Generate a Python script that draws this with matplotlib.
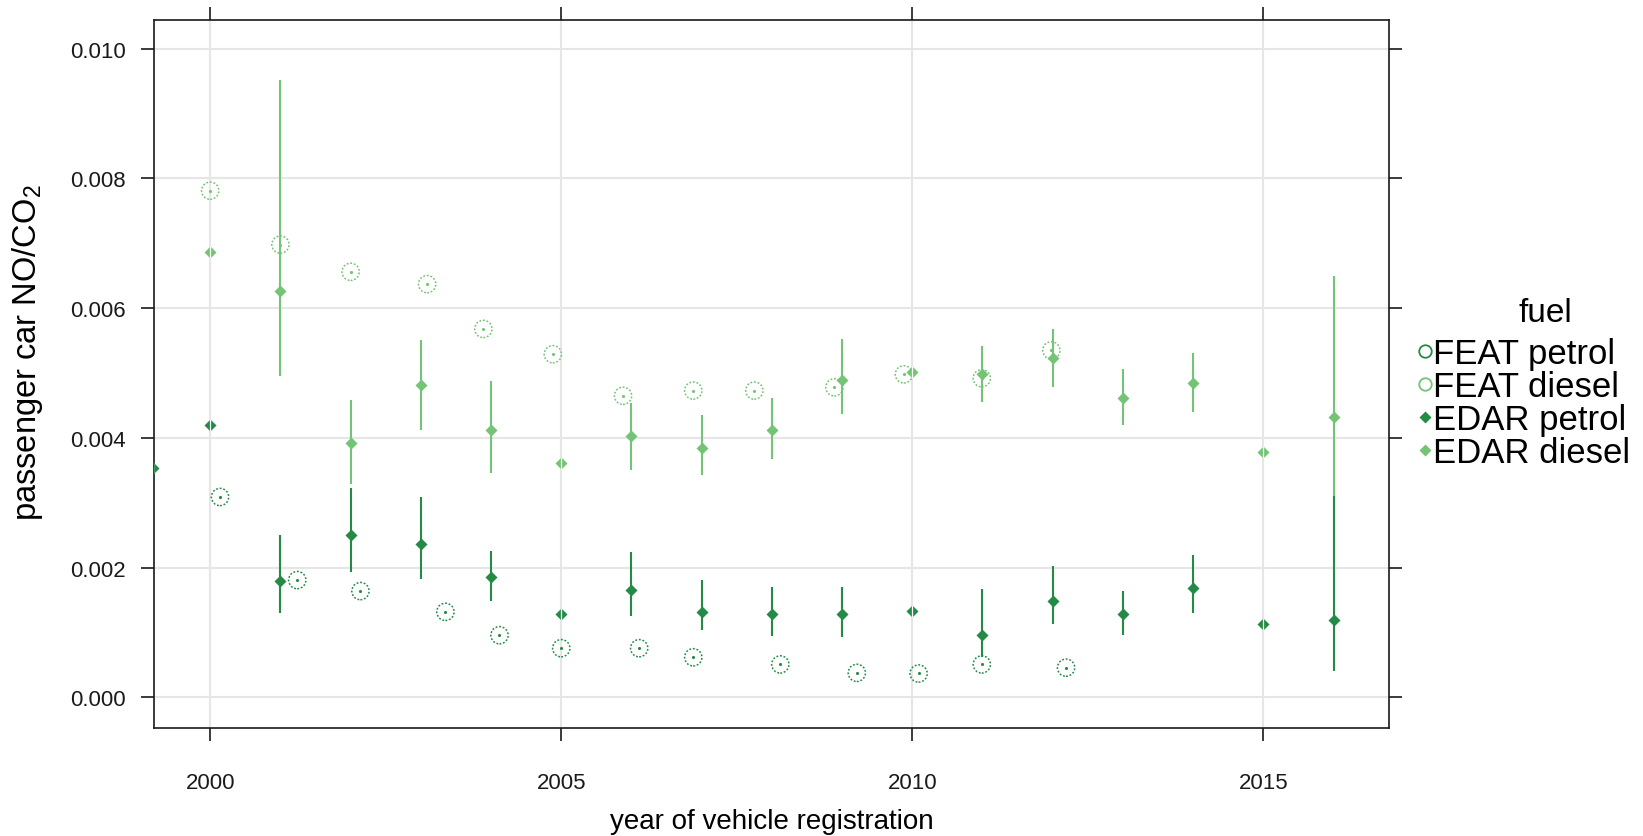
import matplotlib
matplotlib.use('Agg')
import matplotlib.pyplot as plt
from matplotlib.lines import Line2D
import numpy as np

plt.rcParams['font.family'] = ['Liberation Sans', 'DejaVu Sans']
plt.rcParams['mathtext.fontset'] = 'custom'
plt.rcParams['mathtext.rm'] = 'Liberation Sans'
plt.rcParams['mathtext.default'] = 'regular'

# FEAT remote sensing means (plotted at the mean registration date of each bin)
feat_petrol_year = [2000.14, 2001.24, 2002.14, 2003.35, 2004.12, 2005.0, 2006.11,
                    2006.88, 2008.12, 2009.21, 2010.09, 2010.99, 2012.19]
feat_petrol = [0.00309, 0.00181, 0.00164, 0.00132, 0.00096, 0.00076, 0.00076,
               0.00062, 0.00051, 0.00038, 0.00037, 0.00051, 0.00046]

feat_diesel_year = [2000.0, 2001.0, 2002.0, 2003.09, 2003.89, 2004.88, 2005.88,
                    2006.88, 2007.75, 2008.89, 2009.88, 2010.99, 2011.98]
feat_diesel = [0.00781, 0.00698, 0.00656, 0.00637, 0.00568, 0.00529, 0.00465,
               0.00473, 0.00473, 0.00478, 0.00498, 0.00492, 0.00535]

# EDAR means with 95% intervals
edar_year = [2000, 2001, 2002, 2003, 2004, 2005, 2006, 2007, 2008,
             2009, 2010, 2011, 2012, 2013, 2014, 2015, 2016]
edar_petrol = [0.00420, 0.00179, 0.00251, 0.00237, 0.00185, 0.00129, 0.00165, 0.00132, 0.00129,
               0.00129, 0.00134, 0.00096, 0.00149, 0.00129, 0.00168, 0.00113, 0.00120]
edar_petrol_lo = [0.00420, 0.00130, 0.00193, 0.00182, 0.00148, 0.00129, 0.00126, 0.00104, 0.00095,
                  0.00093, 0.00134, 0.00062, 0.00113, 0.00096, 0.00130, 0.00113, 0.00041]
edar_petrol_hi = [0.00420, 0.00251, 0.00323, 0.00309, 0.00226, 0.00129, 0.00224, 0.00181, 0.00170,
                  0.00170, 0.00134, 0.00167, 0.00203, 0.00164, 0.00220, 0.00113, 0.00311]

edar_diesel = [0.00687, 0.00626, 0.00392, 0.00482, 0.00412, 0.00362, 0.00403, 0.00384, 0.00412,
               0.00490, 0.00501, 0.00498, 0.00523, 0.00462, 0.00484, 0.00379, 0.00432]
edar_diesel_lo = [0.00687, 0.00496, 0.00329, 0.00412, 0.00346, 0.00362, 0.00351, 0.00343, 0.00368,
                  0.00437, 0.00501, 0.00456, 0.00479, 0.00420, 0.00440, 0.00379, 0.00215]
edar_diesel_hi = [0.00687, 0.00952, 0.00459, 0.00551, 0.00487, 0.00362, 0.00454, 0.00436, 0.00462,
                  0.00553, 0.00501, 0.00542, 0.00568, 0.00506, 0.00531, 0.00379, 0.00649]

# the 1999 EDAR petrol bin sits right on the panel edge
edar_petrol_1999_year = 1999.19
edar_petrol_1999 = 0.00354

x_ticks = [2000, 2005, 2010, 2015]
y_ticks = [0.000, 0.002, 0.004, 0.006, 0.008, 0.010]

dark = '#238b45'
light = '#74c476'

fig = plt.figure(figsize=(16.43, 8.37), dpi=100)
ax = fig.add_axes([154 / 1643, 1 - 729 / 837, (1389 - 154) / 1643, (729 - 21) / 837])

ax.set_xlim(1999.2, 2016.79)
ax.set_ylim(-0.00047, 0.01044)
ax.set_xticks(x_ticks)
ax.set_yticks(y_ticks)
ax.set_yticklabels(['%.3f' % v for v in y_ticks])
ax.grid(True, color='#e6e6e6', lw=1.5)
ax.set_axisbelow(True)

for s in ax.spines.values():
    s.set_linewidth(1.2)
    s.set_color('#1a1a1a')
ax.tick_params(direction='out', length=9.5, width=1.2, color='#1a1a1a',
               top=True, right=True, labelsize=16, pad=10.5, labelcolor='#1a1a1a')
ax.tick_params(axis='x', pad=22)


def edar_series(years, mean, lo, hi, color):
    mean = np.array(mean)
    lo = np.array(lo)
    hi = np.array(hi)
    ax.vlines(years, lo, hi, color=color, lw=1.5, zorder=3)
    ax.plot(years, mean, 'D', ms=6, color=color, mec='none', zorder=4)
    # zero-width intervals leave a thin gap through the symbol
    flat = hi == lo
    ax.plot(np.array(years)[flat], mean[flat], '|', ms=8, mew=0.9, color='white', zorder=5)


def feat_series(years, vals, color):
    ax.scatter(years, vals, s=155, facecolors='none', edgecolors=color,
               linewidths=1.1, linestyle=(0, (1.2, 1.2)), zorder=3)
    ax.scatter(years, vals, s=1.5, color=color, zorder=3)


feat_series(feat_petrol_year, feat_petrol, dark)
feat_series(feat_diesel_year, feat_diesel, light)
edar_series(edar_year, edar_diesel, edar_diesel_lo, edar_diesel_hi, light)
edar_series(edar_year, edar_petrol, edar_petrol_lo, edar_petrol_hi, dark)
ax.plot([edar_petrol_1999_year], [edar_petrol_1999], 'D', ms=6, color=dark, mec='none', zorder=4)
ax.plot([edar_petrol_1999_year], [edar_petrol_1999], '|', ms=8, mew=0.9, color='white', zorder=5)

ax.set_xlabel('year of vehicle registration', fontsize=20, labelpad=11)
ax.set_ylabel('passenger car NO/CO$_2$', fontsize=23.5)
ax.yaxis.set_label_coords(-0.088, 0.531)

handles = [
    Line2D([], [], ls='none', marker='o', ms=9, mfc='none', mec=dark, mew=1.3),
    Line2D([], [], ls='none', marker='o', ms=9, mfc='none', mec=light, mew=1.3),
    Line2D([], [], ls='none', marker='D', ms=6, color=dark, mec='none'),
    Line2D([], [], ls='none', marker='D', ms=6, color=light, mec='none'),
]
labels = ['FEAT petrol', 'FEAT diesel', 'EDAR petrol', 'EDAR diesel']
leg = fig.legend(handles, labels, loc='upper left',
                 bbox_to_anchor=(1418 / 1643, 1 - 338 / 837), frameon=False,
                 fontsize=25, handlelength=0.4,
                 handletextpad=0.03, labelspacing=0.0, borderpad=0, borderaxespad=0)
fig.text(1545 / 1643, 1 - 313 / 837, 'fuel', ha='center', va='center', fontsize=24)

fig.savefig('out.png', dpi=100)
